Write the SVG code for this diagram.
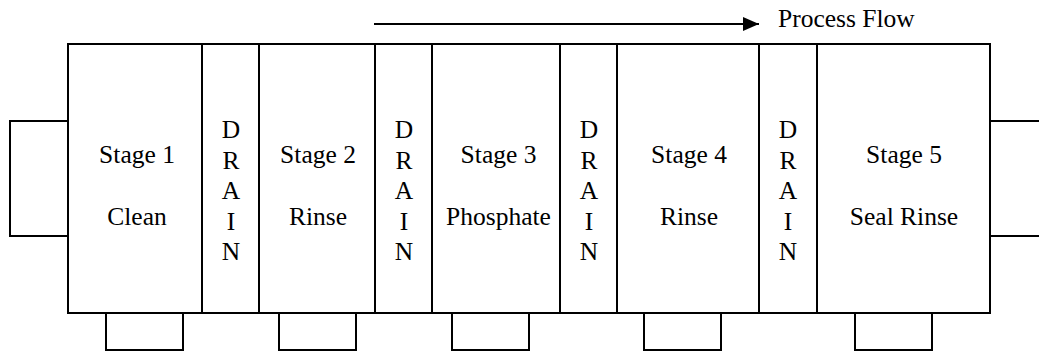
<svg xmlns="http://www.w3.org/2000/svg" width="1039" height="351" viewBox="0 0 1039 351">
  <style>
    .box { fill: #ffffff; stroke: #000000; stroke-width: 2; }
    .line { fill: none; stroke: #000000; stroke-width: 2; }
    text { font-family: 'Liberation Serif', 'Times New Roman', serif; font-size: 25.5px; fill: #000000; }
    .lbl { text-anchor: middle; }
  </style>
  <defs>
    <marker id="arrowhead" markerUnits="userSpaceOnUse" markerWidth="16" markerHeight="16" refX="16" refY="7" orient="auto">
      <path d="M0,0 L16,7 L0,14 Z" fill="#000000"/>
    </marker>
  </defs>

  <!-- entry and exit conveyor boxes -->
  <g id="entry">
    <rect class="box" x="10" y="121" width="58" height="115"/>
  </g>
  <g id="exit">
    <path class="line" d="M1040,121 H990 V236 H1040"/>
  </g>

  <!-- pumps under each stage -->
  <g id="pump1"><rect class="box" x="106" y="313" width="77" height="37"/></g>
  <g id="pump2"><rect class="box" x="279" y="313" width="77" height="37"/></g>
  <g id="pump3"><rect class="box" x="452" y="313" width="77" height="37"/></g>
  <g id="pump4"><rect class="box" x="644" y="313" width="77" height="37"/></g>
  <g id="pump5"><rect class="box" x="855" y="313" width="77" height="37"/></g>

  <!-- stage tanks -->
  <g id="stage1">
    <rect class="box" x="68" y="44" width="134" height="269"/>
    <text class="lbl" x="137" y="163">Stage 1</text>
    <text class="lbl" x="137" y="225">Clean</text>
  </g>
  <g id="drain1">
    <rect class="box" x="202" y="44" width="57" height="269"/>
    <text class="lbl" x="231" y="138">D</text>
    <text class="lbl" x="231" y="168.5">R</text>
    <text class="lbl" x="231" y="199">A</text>
    <text class="lbl" x="231" y="229.5">I</text>
    <text class="lbl" x="231" y="260">N</text>
  </g>
  <g id="stage2">
    <rect class="box" x="259" y="44" width="116" height="269"/>
    <text class="lbl" x="318" y="163">Stage 2</text>
    <text class="lbl" x="318" y="225">Rinse</text>
  </g>
  <g id="drain2">
    <rect class="box" x="375" y="44" width="57" height="269"/>
    <text class="lbl" x="404" y="138">D</text>
    <text class="lbl" x="404" y="168.5">R</text>
    <text class="lbl" x="404" y="199">A</text>
    <text class="lbl" x="404" y="229.5">I</text>
    <text class="lbl" x="404" y="260">N</text>
  </g>
  <g id="stage3">
    <rect class="box" x="432" y="44" width="128" height="269"/>
    <text class="lbl" x="498.5" y="163">Stage 3</text>
    <text class="lbl" x="498.5" y="225">Phosphate</text>
  </g>
  <g id="drain3">
    <rect class="box" x="560" y="44" width="57" height="269"/>
    <text class="lbl" x="589" y="138">D</text>
    <text class="lbl" x="589" y="168.5">R</text>
    <text class="lbl" x="589" y="199">A</text>
    <text class="lbl" x="589" y="229.5">I</text>
    <text class="lbl" x="589" y="260">N</text>
  </g>
  <g id="stage4">
    <rect class="box" x="617" y="44" width="142" height="269"/>
    <text class="lbl" x="689" y="163">Stage 4</text>
    <text class="lbl" x="689" y="225">Rinse</text>
  </g>
  <g id="drain4">
    <rect class="box" x="759" y="44" width="58" height="269"/>
    <text class="lbl" x="788" y="138">D</text>
    <text class="lbl" x="788" y="168.5">R</text>
    <text class="lbl" x="788" y="199">A</text>
    <text class="lbl" x="788" y="229.5">I</text>
    <text class="lbl" x="788" y="260">N</text>
  </g>
  <g id="stage5">
    <rect class="box" x="817" y="44" width="173" height="269"/>
    <text class="lbl" x="904" y="163">Stage 5</text>
    <text class="lbl" x="904" y="225">Seal Rinse</text>
  </g>

  <!-- process flow direction -->
  <g id="connectors">
    <line class="line" x1="374" y1="24" x2="759" y2="24" marker-end="url(#arrowhead)"/>
  </g>
  <g id="flow-label">
    <text x="778" y="27" font-size="26px">Process Flow</text>
  </g>
</svg>
